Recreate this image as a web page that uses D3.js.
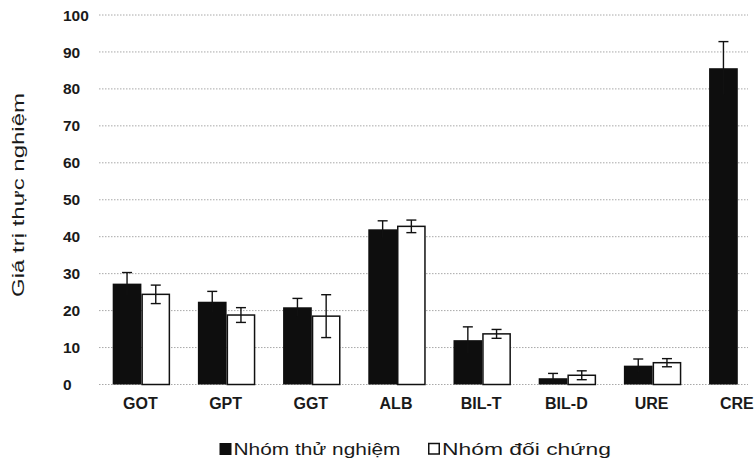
<!DOCTYPE html>
<html>
<head>
<meta charset="utf-8">
<script src="https://cdn.jsdelivr.net/npm/d3@7"></script>
<style>
  html, body { margin: 0; padding: 0; background: #fff; }
  svg { display: block; font-family: "Liberation Sans", Arial, sans-serif; }
</style>
</head>
<body>
<svg id="chart" width="755" height="470"></svg>
<script>
// Biochemical test values: experimental vs control group (mean ± SD)
const categories = ["GOT", "GPT", "GGT", "ALB", "BIL-T", "BIL-D", "URE", "CRE"];
const seriesNames = ["Nhóm thử nghiệm", "Nhóm đối chứng"];
const testValues = [27.3, 22.4, 20.9, 42, 12, 1.7, 5.1, 85.6];
const testErrors = [3, 2.8, 2.4, 2.3, 3.6, 1.3, 1.8, 7.2];
const controlValues = [24.4, 18.8, 18.5, 42.8, 13.7, 2.5, 5.9, null];
const controlErrors = [2.5, 2, 5.8, 1.7, 1.2, 1.2, 1.1, null];
const yTicks = [0, 10, 20, 30, 40, 50, 60, 70, 80, 90, 100];
const yLabel = "Giá trị thực nghiệm";

const svg = d3.select("#chart");

const y = d3.scaleLinear().domain([0, 100]).range([384.5, 15]);
const x = d3.scaleBand().domain(categories).range([98.8, 780.4])
  .paddingInner(0.326).paddingOuter(0.163);
const xs = d3.scaleBand().domain([0, 1]).range([0, x.bandwidth()]);

// dotted horizontal gridlines
svg.append("g").selectAll("line").data(yTicks).join("line")
  .attr("x1", 99).attr("x2", 748)
  .attr("y1", d => y(d)).attr("y2", d => y(d))
  .attr("stroke", "#a8a8a8").attr("stroke-width", 1)
  .attr("stroke-dasharray", "1.5,1.5");

// y tick labels (left aligned)
svg.append("g").selectAll("text").data(yTicks).join("text")
  .attr("x", 63).attr("y", d => y(d)).attr("dy", "0.36em")
  .attr("font-size", 15.5).attr("font-weight", "bold").attr("fill", "#1a1a1a")
  .text(d => d);

// y axis title
svg.append("text")
  .attr("transform", "translate(23.5,195) rotate(-90)")
  .attr("text-anchor", "middle")
  .attr("font-size", 17).attr("fill", "#1a1a1a")
  .attr("textLength", 204).attr("lengthAdjust", "spacingAndGlyphs")
  .text(yLabel);

// bars
const rows = [];
categories.forEach((c, i) => {
  rows.push({ c, s: 0, v: testValues[i], e: testErrors[i] });
  if (controlValues[i] != null) rows.push({ c, s: 1, v: controlValues[i], e: controlErrors[i] });
});

const g = svg.append("g");
g.selectAll("rect").data(rows).join("rect")
  .attr("x", d => x(d.c) + xs(d.s) + (d.s ? 0.75 : 0))
  .attr("y", d => y(d.v))
  .attr("width", d => xs.bandwidth() - (d.s ? 1.5 : 0))
  .attr("height", d => y(0) - y(d.v))
  .attr("fill", d => d.s ? "#fff" : "#0e0e0e")
  .attr("stroke", d => d.s ? "#111" : "none")
  .attr("stroke-width", 1.5);

// error bars
const eb = g.selectAll("g.err").data(rows).join("g").attr("class", "err")
  .attr("transform", d => `translate(${x(d.c) + xs(d.s) + xs.bandwidth() / 2},0)`);
eb.append("line")
  .attr("x1", 0).attr("x2", 0)
  .attr("y1", d => y(d.v + d.e)).attr("y2", d => y(Math.max(0, d.v - d.e)))
  .attr("stroke", "#111").attr("stroke-width", 1.4);
eb.append("line")
  .attr("x1", -5).attr("x2", 5)
  .attr("y1", d => y(d.v + d.e)).attr("y2", d => y(d.v + d.e))
  .attr("stroke", "#111").attr("stroke-width", 1.4);
eb.filter(d => d.s === 1).append("line")
  .attr("x1", -5).attr("x2", 5)
  .attr("y1", d => y(Math.max(0, d.v - d.e))).attr("y2", d => y(Math.max(0, d.v - d.e)))
  .attr("stroke", "#111").attr("stroke-width", 1.4);

// category labels
svg.append("g").selectAll("text").data(categories).join("text")
  .attr("x", d => x(d) + x.bandwidth() / 2 - 1).attr("y", 409)
  .attr("text-anchor", "middle")
  .attr("font-size", 16).attr("font-weight", "bold").attr("fill", "#1a1a1a")
  .text(d => d);

// legend
const legendX = [219.5, 428];
const legendTextW = [167, 169];
const lg = svg.append("g").selectAll("g").data(seriesNames).join("g")
  .attr("transform", (d, i) => `translate(${legendX[i]},0)`);
lg.append("rect")
  .attr("x", (d, i) => i ? 0.75 : 0).attr("y", (d, i) => i ? 443.5 : 443)
  .attr("width", (d, i) => i ? 10.5 : 12).attr("height", (d, i) => i ? 10.5 : 12)
  .attr("fill", (d, i) => i ? "#fff" : "#0e0e0e")
  .attr("stroke", (d, i) => i ? "#111" : "none").attr("stroke-width", 1.5);
lg.append("text")
  .attr("x", 14).attr("y", 455)
  .attr("font-size", 17).attr("fill", "#1a1a1a")
  .attr("textLength", (d, i) => legendTextW[i]).attr("lengthAdjust", "spacingAndGlyphs")
  .text(d => d);
</script>
</body>
</html>
